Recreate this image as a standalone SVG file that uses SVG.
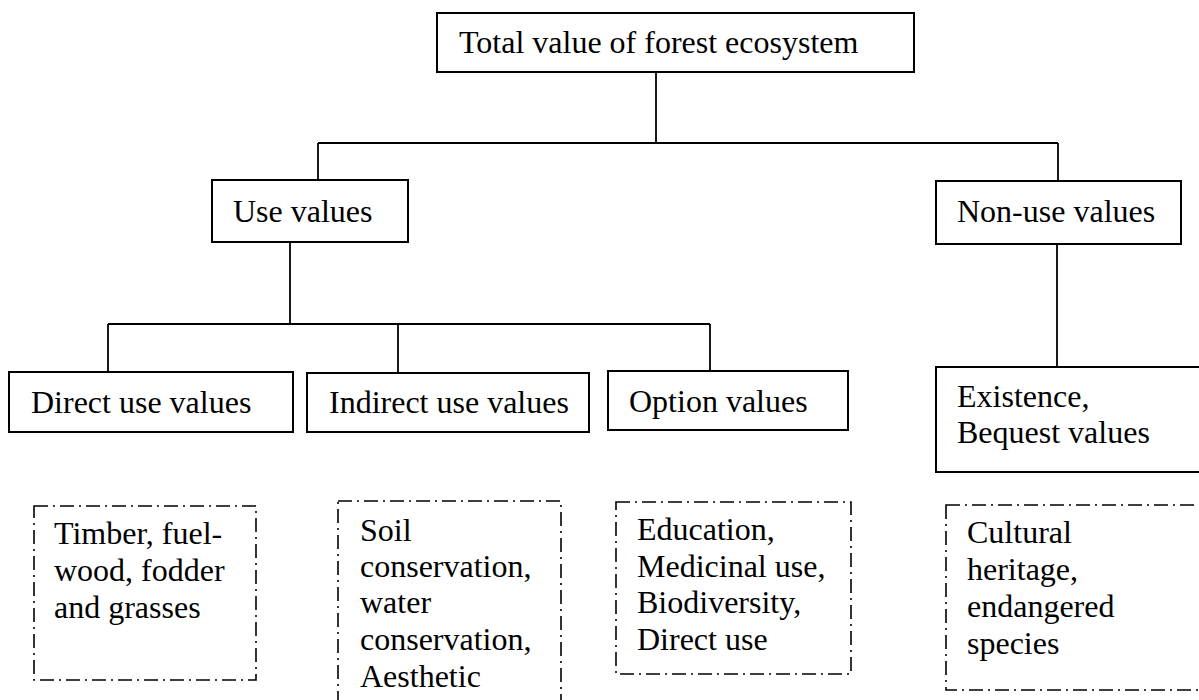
<svg xmlns="http://www.w3.org/2000/svg" width="1199" height="700" viewBox="0 0 1199 700">
  <style>
    text { font-family: "Liberation Serif", "Times New Roman", serif; font-size: 32px; fill: #000; }
    .box { fill: #fff; stroke: #000; stroke-width: 2; }
    .note { fill: none; stroke: #000; stroke-width: 1.6; stroke-dasharray: 14 5 2 5; }
    .link { fill: none; stroke: #000; stroke-width: 1.8; }
  </style>
  <rect width="1199" height="700" fill="#fff"/>

  <!-- tree connectors -->
  <g id="connectors">
    <path class="link" d="M656 72 V143 M318 143 H1058 M318 143 V180 M1058 143 V181"/>
    <path class="link" d="M290 242 V324 M108 324 H710 M108 324 V372 M398 324 V373 M710 324 V371"/>
    <path class="link" d="M1057 244 V367"/>
  </g>

  <g id="total">
    <rect class="box" x="437" y="13" width="477" height="59"/>
    <text x="459" y="53">Total value of forest ecosystem</text>
  </g>

  <g id="use">
    <rect class="box" x="212" y="180" width="196" height="62"/>
    <text x="233" y="222">Use values</text>
  </g>

  <g id="nonuse">
    <rect class="box" x="936" y="181" width="245" height="63"/>
    <text x="957" y="222">Non-use values</text>
  </g>

  <g id="direct">
    <rect class="box" x="9" y="372" width="284" height="60"/>
    <text x="31" y="413">Direct use values</text>
  </g>

  <g id="indirect">
    <rect class="box" x="307" y="373" width="282" height="59"/>
    <text x="329" y="413">Indirect use values</text>
  </g>

  <g id="option">
    <rect class="box" x="608" y="371" width="240" height="59"/>
    <text x="629" y="412">Option values</text>
  </g>

  <g id="existence">
    <rect class="box" x="936" y="367" width="290" height="105"/>
    <text x="957" y="407">Existence,</text>
    <text x="957" y="443">Bequest values</text>
  </g>

  <!-- example notes beneath each category -->
  <g id="note-direct">
    <rect class="note" x="34" y="506" width="222" height="174"/>
    <text x="54" y="544">Timber, fuel-</text>
    <text x="54" y="581">wood, fodder</text>
    <text x="54" y="618">and grasses</text>
  </g>

  <g id="note-indirect">
    <rect class="note" x="338" y="501" width="223" height="230"/>
    <text x="360" y="541">Soil</text>
    <text x="360" y="577">conservation,</text>
    <text x="360" y="613">water</text>
    <text x="360" y="650">conservation,</text>
    <text x="360" y="687">Aesthetic</text>
  </g>

  <g id="note-option">
    <rect class="note" x="616" y="502" width="235" height="172"/>
    <text x="637" y="540">Education,</text>
    <text x="637" y="577">Medicinal use,</text>
    <text x="637" y="613">Biodiversity,</text>
    <text x="637" y="650">Direct use</text>
  </g>

  <g id="note-existence">
    <rect class="note" x="946" y="505" width="290" height="185"/>
    <text x="967" y="543">Cultural</text>
    <text x="967" y="580">heritage,</text>
    <text x="967" y="617">endangered</text>
    <text x="967" y="654">species</text>
  </g>
</svg>
